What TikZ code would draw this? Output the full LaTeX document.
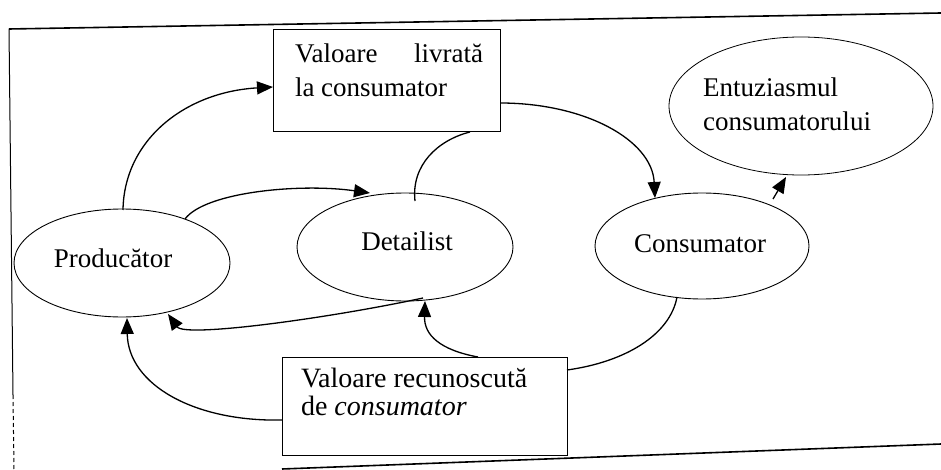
\documentclass[tikz,border=0pt]{standalone}
\usepackage{fontspec}
\setmainfont{Liberation Serif}
\usetikzlibrary{arrows.meta,shapes.geometric}

\tikzset{
  x=1pt, y=-1pt,
  every node/.style={inner sep=0pt, outer sep=0pt, font=\fontsize{27}{34}\selectfont},
  actor/.style={draw, ellipse, line width=0.9pt},
  valuebox/.style={draw, rectangle, line width=1pt},
  label/.style={anchor=base},
  link/.style={line width=1.3pt},
  flow/.style={link, -{Triangle[length=16pt,width=13pt]}},
  frameline/.style={line width=1.6pt}
}

\begin{document}
\begin{tikzpicture}
\useasboundingbox (0,0) rectangle (941,470);

% outer frame (open at the lower left)
\coordinate (ftl) at (9,29);
\coordinate (ftr) at (941,13);
\coordinate (flm) at (13,395);
\coordinate (flb) at (14,470);
\coordinate (fbl) at (282,469);
\coordinate (fbr) at (941,444);
\draw[frameline] (ftl) -- (ftr);
\draw[line width=1pt] (ftl) -- (flm);
\draw[line width=1pt, dash pattern=on 4pt off 3pt] (flm) -- (flb);
\draw[frameline] (fbl) -- (fbr);

% the four actors
\node[actor, minimum width=216pt, minimum height=108pt] (prod) at (122,263) {};
\node[label] (prodtxt) at (113,267) {Producător};
\node[actor, minimum width=216pt, minimum height=108pt] (det) at (405,247) {};
\node[label] (dettxt) at (407,250) {Detailist};
\node[actor, minimum width=214pt, minimum height=106pt] (cons) at (702,246) {};
\node[label] (constxt) at (700,252) {Consumator};
\node[actor, line width=0.8pt, minimum width=264pt, minimum height=138pt] (entz) at (801,106) {};
\node[anchor=base west, align=left] (entztxt) at (703,131) {Entuziasmul\\consumatorului};

% value boxes
\node[valuebox, minimum width=227pt, minimum height=102pt] (livr) at (386.5,81) {};
\node[anchor=base west] (livrtxt) at (295,97)
  {\parbox[b]{188pt}{\fontsize{27}{34}\selectfont Valoare\hfill livrată\\la consumator}};
\node[valuebox, minimum width=285pt, minimum height=98pt] (recu) at (424.5,406) {};
\node[anchor=base west] (recutxt) at (301,415)
  {\parbox[b]{250pt}{\fontsize{28}{28}\selectfont Valoare recunoscută\\de \textit{consumator}}};

% connection points on the shapes
\coordinate (pTop) at (123,210);
\coordinate (pRight) at (185,219);
\coordinate (pBot) at (127,318);
\coordinate (pBotR) at (168,314);
\coordinate (dTop) at (370,193);
\coordinate (dMid) at (415,201);
\coordinate (dBot) at (425,301);
\coordinate (dBotL) at (423,298);
\coordinate (cTop) at (655,198);
\coordinate (cTopR) at (773,199);
\coordinate (cBot) at (677,297);
\coordinate (eBot) at (786,177);
\coordinate (lLeft) at (273,87);
\coordinate (lRight) at (500,103);
\coordinate (lBot) at (470,132);
\coordinate (rTop) at (478,357);
\coordinate (rLeft) at (282,420);
\coordinate (rRight) at (567,370);

% flows of value
\draw[flow] (pTop) .. controls (124,140) and (185,92) .. (lLeft);
\draw[flow] (pRight) .. controls (205,192) and (300,183) .. (dTop);
\draw[link] (dMid) .. controls (411,165) and (438,140) .. (lBot);
\draw[flow] (lRight) .. controls (585,103) and (652,140) .. (cTop);
\draw[flow] (cTopR) -- (eBot);
\draw[flow] (dBotL) .. controls (330,318) and (185,338) .. (pBotR);
\draw[flow] (rTop) .. controls (440,350) and (424,335) .. (dBot);
\draw[flow] (rLeft) .. controls (195,422) and (128,385) .. (pBot);
\draw[link] (rRight) .. controls (625,362) and (670,335) .. (cBot);
\end{tikzpicture}
\end{document}
